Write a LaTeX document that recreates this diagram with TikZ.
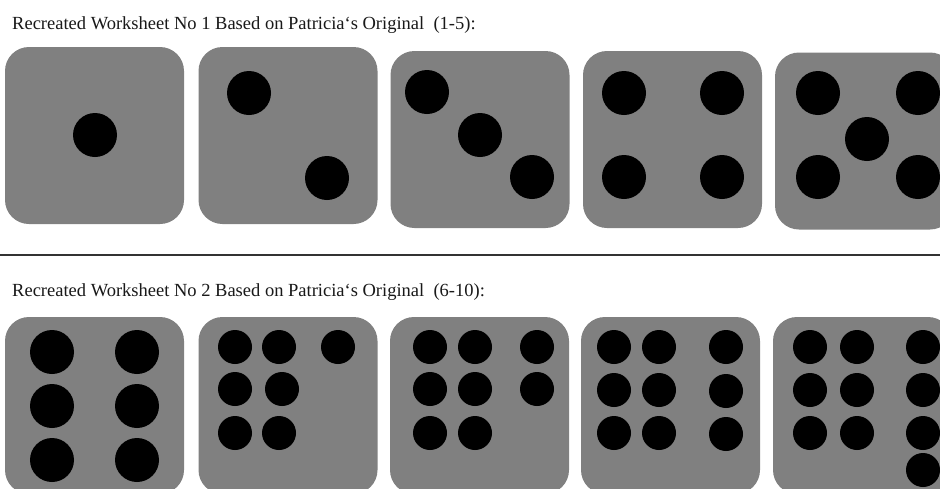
\documentclass[tikz,border=0pt]{standalone}
\usepackage{fontspec}
\setmainfont{Liberation Serif}

\begin{document}
\begin{tikzpicture}
 [x=1pt, y=-1pt,
  die node/.style={rectangle, rounded corners=24pt, fill=gray, minimum width=179pt, minimum height=177pt, inner sep=0pt},
  big pip/.style={circle, fill=black, minimum size=44pt, inner sep=0pt},
  small pip/.style={circle, fill=black, minimum size=34pt, inner sep=0pt},
  title node/.style={anchor=base west, inner sep=0pt, text=black!90, font=\fontsize{18.5}{22}\selectfont}]

 \useasboundingbox (0,0) rectangle (940,488);
 \clip (0,0) rectangle (940,488);
 \fill[white] (0,0) rectangle (940,488);

 % worksheet 1
 \node[title node] (t1) at (12,29) {Recreated Worksheet No 1 Based on Patricia‘s Original\ \ (1-5):};

 \node[die node] (d1) at (94.5,135.5) {};
 \node[die node] (d2) at (288,135.5) {};
 \node[die node] (d3) at (480,139.5) {};
 \node[die node] (d4) at (672.5,139.5) {};
 \node[die node] (d5) at (864.5,141) {};

 \node[big pip] (d1a) at (95,135) {};

 \node[big pip] (d2a) at (249,93) {};
 \node[big pip] (d2b) at (327,178) {};

 \node[big pip] (d3a) at (427,92) {};
 \node[big pip] (d3b) at (480,135) {};
 \node[big pip] (d3c) at (532,177) {};

 \node[big pip] (d4a) at (624,93) {};
 \node[big pip] (d4b) at (722,93) {};
 \node[big pip] (d4c) at (624,177) {};
 \node[big pip] (d4d) at (722,177) {};

 \node[big pip] (d5a) at (818,93) {};
 \node[big pip] (d5b) at (918,93) {};
 \node[big pip] (d5c) at (867,139) {};
 \node[big pip] (d5d) at (818,177) {};
 \node[big pip] (d5e) at (918,177) {};

 % separator
 \coordinate (l) at (0,255);
 \coordinate (r) at (940,255);
 \draw[line width=1.6pt, black!80] (l) -- (r);

 % worksheet 2
 \node[title node] (t2) at (12,296) {Recreated Worksheet No 2 Based on Patricia‘s Original\ \ (6-10):};

 \node[die node] (d6) at (94.5,405.5) {};
 \node[die node] (d7) at (288,405.5) {};
 \node[die node] (d8) at (479.5,405.5) {};
 \node[die node] (d9) at (670.5,405.5) {};
 \node[die node] (d10) at (862.5,405.5) {};

 \node[big pip] (d6a) at (52,352) {};
 \node[big pip] (d6b) at (137,352) {};
 \node[big pip] (d6c) at (52,406) {};
 \node[big pip] (d6d) at (137,406) {};
 \node[big pip] (d6e) at (52,460) {};
 \node[big pip] (d6f) at (137,460) {};

 \node[small pip] (d7a) at (235,347) {};
 \node[small pip] (d7b) at (279,347) {};
 \node[small pip] (d7c) at (338,347) {};
 \node[small pip] (d7d) at (235,389) {};
 \node[small pip] (d7e) at (282,389) {};
 \node[small pip] (d7f) at (235,433) {};
 \node[small pip] (d7g) at (279,433) {};

 \node[small pip] (d8a) at (430,347) {};
 \node[small pip] (d8b) at (475,347) {};
 \node[small pip] (d8c) at (537,347) {};
 \node[small pip] (d8d) at (430,389) {};
 \node[small pip] (d8e) at (475,389) {};
 \node[small pip] (d8f) at (537,389) {};
 \node[small pip] (d8g) at (430,433) {};
 \node[small pip] (d8h) at (475,433) {};

 \node[small pip] (d9a) at (614,347) {};
 \node[small pip] (d9b) at (659,347) {};
 \node[small pip] (d9c) at (726,347) {};
 \node[small pip] (d9d) at (614,390) {};
 \node[small pip] (d9e) at (659,390) {};
 \node[small pip] (d9f) at (726,391) {};
 \node[small pip] (d9g) at (614,433) {};
 \node[small pip] (d9h) at (659,433) {};
 \node[small pip] (d9i) at (726,434) {};

 \node[small pip] (d10a) at (810,347) {};
 \node[small pip] (d10b) at (857,347) {};
 \node[small pip] (d10c) at (923,347) {};
 \node[small pip] (d10d) at (810,390) {};
 \node[small pip] (d10e) at (857,390) {};
 \node[small pip] (d10f) at (923,390) {};
 \node[small pip] (d10g) at (810,433) {};
 \node[small pip] (d10h) at (857,433) {};
 \node[small pip] (d10i) at (923,433) {};
 \node[small pip] (d10j) at (923,470) {};

\end{tikzpicture}
\end{document}
